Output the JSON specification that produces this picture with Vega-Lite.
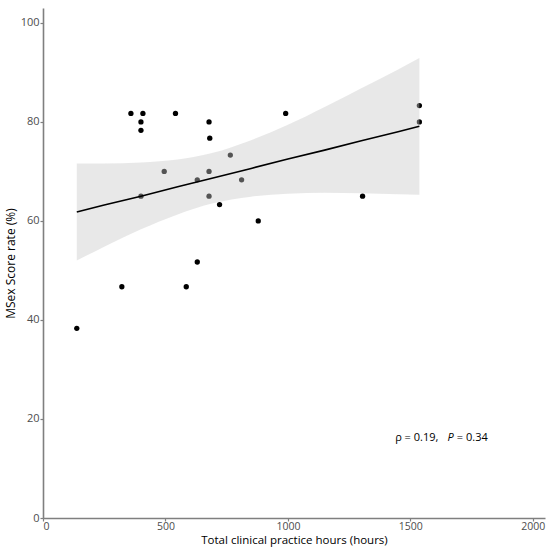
{
  "$schema": "https://vega.github.io/schema/vega-lite/v6.json",
  "autosize": {"type": "none"},
  "padding": {"left": 43, "top": 8, "right": 5, "bottom": 36},
  "width": 502,
  "height": 510,
  "datasets": {
    "points": [
      {"hours": 138, "score": 38.3},
      {"hours": 322, "score": 46.7},
      {"hours": 359, "score": 81.7},
      {"hours": 408, "score": 81.7},
      {"hours": 400, "score": 80.0},
      {"hours": 400, "score": 78.3},
      {"hours": 400, "score": 65.0},
      {"hours": 541, "score": 81.7},
      {"hours": 495, "score": 70.0},
      {"hours": 678, "score": 80.0},
      {"hours": 681, "score": 76.7},
      {"hours": 765, "score": 73.3},
      {"hours": 678, "score": 70.0},
      {"hours": 630, "score": 68.3},
      {"hours": 811, "score": 68.3},
      {"hours": 678, "score": 65.0},
      {"hours": 721, "score": 63.3},
      {"hours": 879, "score": 60.0},
      {"hours": 630, "score": 51.7},
      {"hours": 585, "score": 46.7},
      {"hours": 991, "score": 81.7},
      {"hours": 1305, "score": 65.0},
      {"hours": 1537, "score": 83.3},
      {"hours": 1537, "score": 80.0}
    ],
    "fit": [
      {"hours": 138, "fit": 61.8, "lo": 52.0, "hi": 71.6},
      {"hours": 250, "fit": 63.2, "lo": 54.8, "hi": 71.6},
      {"hours": 400, "fit": 65.0, "lo": 58.3, "hi": 71.8},
      {"hours": 550, "fit": 66.9, "lo": 61.3, "hi": 72.4},
      {"hours": 690, "fit": 68.6, "lo": 63.5, "hi": 73.7},
      {"hours": 850, "fit": 70.6, "lo": 64.9, "hi": 76.3},
      {"hours": 1000, "fit": 72.5, "lo": 65.5, "hi": 79.4},
      {"hours": 1150, "fit": 74.3, "lo": 65.7, "hi": 83.0},
      {"hours": 1300, "fit": 76.2, "lo": 65.6, "hi": 86.8},
      {"hours": 1450, "fit": 78.0, "lo": 65.4, "hi": 90.6},
      {"hours": 1537, "fit": 79.1, "lo": 65.3, "hi": 92.9}
    ],
    "notes": [
      {"hours": 1438, "score": 16.2, "label": "ρ = 0.19,", "style": "normal"},
      {"hours": 1652, "score": 16.2, "label": "P", "style": "italic"},
      {"hours": 1690, "score": 16.2, "label": "= 0.34", "style": "normal"}
    ]
  },
  "layer": [
    {
      "data": {"name": "points"},
      "mark": {"type": "circle", "size": 28, "opacity": 1, "color": "#000000"},
      "encoding": {
        "x": {
          "field": "hours",
          "type": "quantitative",
          "scale": {"domain": [0, 2050], "nice": false, "zero": false},
          "axis": {
            "title": "Total clinical practice hours (hours)",
            "values": [0, 500, 1000, 1500, 2000],
            "format": "d"
          }
        },
        "y": {
          "field": "score",
          "type": "quantitative",
          "scale": {"domain": [0, 103], "nice": false, "zero": false},
          "axis": {
            "title": "MSex Score rate (%)",
            "values": [0, 20, 40, 60, 80, 100]
          }
        }
      }
    },
    {
      "data": {"name": "fit"},
      "mark": {"type": "area", "color": "#c9c9c9", "opacity": 0.42, "interpolate": "monotone"},
      "encoding": {
        "x": {"field": "hours", "type": "quantitative"},
        "y": {"field": "lo", "type": "quantitative"},
        "y2": {"field": "hi"}
      }
    },
    {
      "data": {"name": "fit"},
      "mark": {"type": "line", "color": "#000000", "strokeWidth": 1.6},
      "encoding": {
        "x": {"field": "hours", "type": "quantitative"},
        "y": {"field": "fit", "type": "quantitative"}
      }
    },
    {
      "data": {"name": "notes"},
      "transform": [{"filter": "datum.style == 'normal'"}],
      "mark": {"type": "text", "align": "left", "baseline": "middle", "font": "Open Sans", "fontSize": 11, "color": "#000000"},
      "encoding": {
        "x": {"field": "hours", "type": "quantitative"},
        "y": {"field": "score", "type": "quantitative"},
        "text": {"field": "label"}
      }
    },
    {
      "data": {"name": "notes"},
      "transform": [{"filter": "datum.style == 'italic'"}],
      "mark": {"type": "text", "align": "left", "baseline": "middle", "font": "Open Sans", "fontSize": 11, "fontStyle": "italic", "color": "#000000"},
      "encoding": {
        "x": {"field": "hours", "type": "quantitative"},
        "y": {"field": "score", "type": "quantitative"},
        "text": {"field": "label"}
      }
    }
  ],
  "config": {
    "view": {"stroke": null},
    "axis": {
      "grid": false,
      "domainColor": "#7f7f7f",
      "domainWidth": 1.6,
      "tickColor": "#7f7f7f",
      "tickSize": 3,
      "tickWidth": 1.2,
      "labelFont": "Open Sans",
      "labelFontSize": 11,
      "labelColor": "#4d4d4d",
      "labelPadding": 1,
      "titleFont": "Open Sans",
      "titleFontSize": 12,
      "titleFontWeight": "normal",
      "titleColor": "#000000"
    },
    "axisX": {"labelFontSize": 10.5, "labelPadding": 0, "titleFontSize": 11.5, "titlePadding": 3, "titleBaseline": "top"},
    "axisY": {"titlePadding": 3}
  }
}
